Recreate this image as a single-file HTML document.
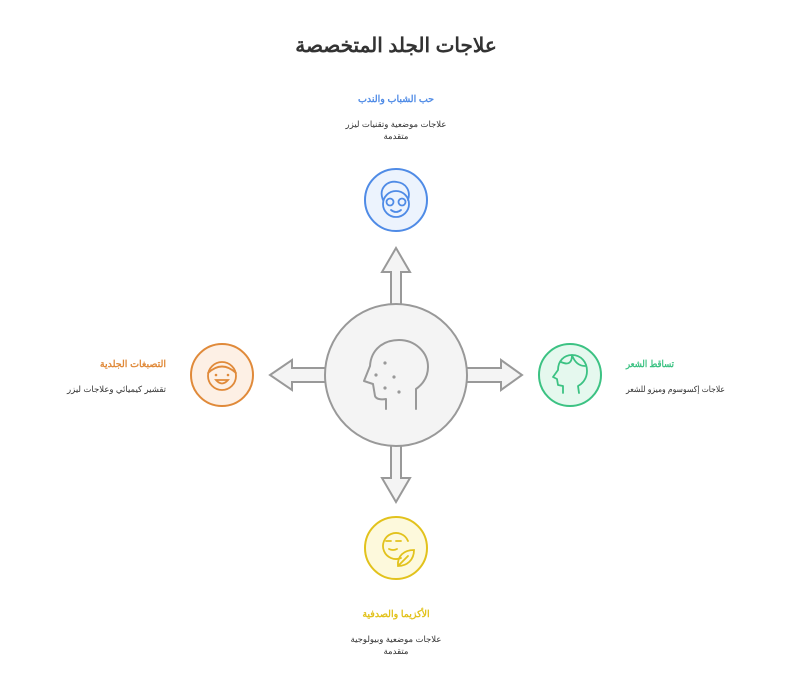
<!DOCTYPE html>
<html><head><meta charset="utf-8"><style>
html,body{margin:0;padding:0;background:#fff;width:792px;height:677px;overflow:hidden}
svg{display:block}
text{font-family:"Liberation Sans","Noto Sans CJK SC",sans-serif}
</style></head><body>
<svg width="792" height="677" viewBox="0 0 792 677" xmlns="http://www.w3.org/2000/svg">
<text x="396" y="52" text-anchor="middle" font-size="20" font-weight="bold" fill="#333">علاجات الجلد المتخصصة</text>

<g fill="#f4f4f4" stroke="#999" stroke-width="2" stroke-linejoin="miter">
<polygon points="391,305 391,272 382,272 396,248 410,272 401,272 401,305"/>
<polygon points="391,445 391,478 382,478 396,502 410,478 401,478 401,445"/>
<polygon points="326,368 292,368 292,360 270,375 292,390 292,382 326,382"/>
<polygon points="466,368 501,368 501,360 522,375 501,390 501,382 466,382"/>
</g>
<circle cx="396" cy="375" r="71" fill="#f4f4f4" stroke="#999" stroke-width="2"/>
<g fill="none" stroke="#999" stroke-width="2" stroke-linecap="round" stroke-linejoin="round">
<path d="M386,409 L386,399 C381,400 376,399 375,396 L373,384 L364,381 L370,366 C371,349 384,340 399,340 C415,340 428,352 428,367 C428,377 423,384 416,389 L416,409"/>
</g>
<g fill="#999"><circle cx="385" cy="363" r="1.6"/><circle cx="376" cy="375" r="1.6"/><circle cx="394" cy="377" r="1.6"/><circle cx="385" cy="388" r="1.6"/><circle cx="399" cy="392" r="1.6"/></g>

<circle cx="396" cy="200" r="31" fill="#ecf3fd" stroke="#4f8be6" stroke-width="2"/>
<g fill="none" stroke="#4f8be6" stroke-width="1.8" stroke-linecap="round">
<circle cx="396" cy="204" r="13"/><path d="M383,200 C378,188 388,180 397,182 C406,183 411,191 408,200"/>
<circle cx="390" cy="202" r="3.5"/><circle cx="402" cy="202" r="3.5"/><path d="M391,210 Q396,214 401,210"/>
</g>
<text x="396" y="102" text-anchor="middle" font-size="9.5" font-weight="bold" fill="#4f8be6">حب الشباب والندب</text>
<text x="396" y="127" text-anchor="middle" font-size="8.5" fill="#333">علاجات موضعية وتقنيات ليزر</text>
<text x="396" y="139" text-anchor="middle" font-size="8.5" fill="#333">متقدمة</text>

<circle cx="222" cy="375" r="31" fill="#fdf0e5" stroke="#e08a3a" stroke-width="2"/>
<g fill="none" stroke="#e08a3a" stroke-width="1.8" stroke-linecap="round">
<circle cx="222" cy="376" r="14"/><path d="M208,373 Q222,360 236,373"/>
<path d="M216,380 Q222,387 228,380 Z"/>
</g>
<g fill="#e08a3a"><circle cx="216" cy="375" r="1.3"/><circle cx="228" cy="375" r="1.3"/></g>
<text x="166" y="367" text-anchor="end" font-size="9.5" font-weight="bold" fill="#e08a3a">التصبغات الجلدية</text>
<text x="166" y="392" text-anchor="end" font-size="8.5" fill="#333" textLength="99" lengthAdjust="spacingAndGlyphs">تقشير كيميائي وعلاجات ليزر</text>

<circle cx="570" cy="375" r="31" fill="#e5f8ee" stroke="#3cc283" stroke-width="2"/>
<g fill="none" stroke="#3cc283" stroke-width="1.8" stroke-linecap="round" stroke-linejoin="round">
<path d="M563,393 L563,386 L558,385 L557,379 L553,377 L558,370 C558,361 564,355 572,355 C581,355 587,362 587,371 C587,379 582,384 578,386 L579,393"/>
<path d="M561,362 Q572,367 572,355 Q576,366 585,366"/>
</g>
<text x="626" y="367" text-anchor="start" font-size="9.5" font-weight="bold" fill="#3cc283" textLength="48" lengthAdjust="spacingAndGlyphs">تساقط الشعر</text>
<text x="626" y="392" text-anchor="start" font-size="8.5" fill="#333" textLength="99" lengthAdjust="spacingAndGlyphs">علاجات إكسوسوم وميزو للشعر</text>

<circle cx="396" cy="548" r="31" fill="#fdf9dc" stroke="#e2c21c" stroke-width="2"/>
<g fill="none" stroke="#e2c21c" stroke-width="1.8" stroke-linecap="round">
<path d="M401,558 A13,13 0 1 1 408,541"/>
<path d="M386,541 L391,541 M396,541 L401,541 M389,549 Q393,551 397,549"/>
<path d="M398,566 C397,556 404,550 414,550 C414,560 407,566 398,566 Z M398,566 L408,556"/>
</g>
<text x="396" y="617" text-anchor="middle" font-size="9.5" font-weight="bold" fill="#e2c21c">الأكزيما والصدفية</text>
<text x="396" y="642" text-anchor="middle" font-size="8.5" fill="#333">علاجات موضعية وبيولوجية</text>
<text x="396" y="654" text-anchor="middle" font-size="8.5" fill="#333">متقدمة</text>
</svg>
</body></html>
